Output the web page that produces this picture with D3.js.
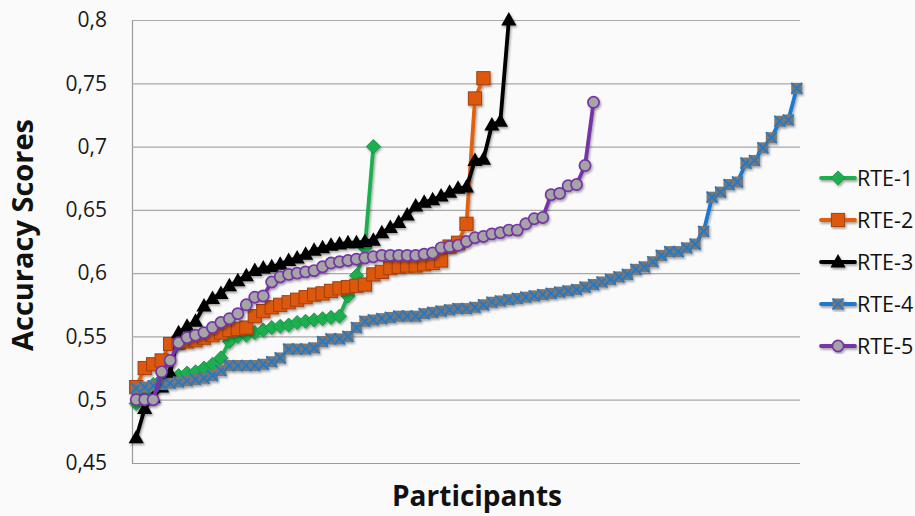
<!DOCTYPE html>
<html><head><meta charset="utf-8">
<script src="https://cdn.jsdelivr.net/npm/d3@7"></script>
<style>body{margin:0;background:#fafafa;} svg{display:block;}</style>
</head><body>
<svg id="chart" width="915" height="516"></svg>
<script>
// ---- data ----
const seriesNames = ["RTE-1", "RTE-2", "RTE-3", "RTE-4", "RTE-5"];
const participantCount = 79;
const rte1 = [0.497,0.505,0.512,0.516,0.518,0.519,0.521,0.522,0.525,0.528,0.533,0.546,0.550,0.551,0.553,0.555,0.557,0.558,0.559,0.561,0.562,0.563,0.564,0.565,0.566,0.582,0.598,0.620,0.700];
const rte2 = [0.510,0.525,0.528,0.531,0.544,0.545,0.546,0.547,0.549,0.551,0.553,0.555,0.556,0.557,0.566,0.570,0.573,0.575,0.577,0.579,0.581,0.583,0.584,0.586,0.588,0.589,0.590,0.591,0.599,0.601,0.604,0.605,0.606,0.606,0.607,0.608,0.610,0.621,0.624,0.639,0.738,0.754];
const rte3 = [0.470,0.493,0.502,0.510,0.521,0.553,0.558,0.562,0.574,0.580,0.584,0.590,0.594,0.598,0.602,0.604,0.605,0.607,0.610,0.612,0.615,0.618,0.620,0.622,0.623,0.624,0.624,0.625,0.626,0.632,0.636,0.640,0.646,0.653,0.656,0.658,0.661,0.664,0.667,0.668,0.689,0.690,0.717,0.720,0.800];
const rte4 = [0.509,0.510,0.511,0.512,0.513,0.514,0.515,0.516,0.517,0.519,0.523,0.527,0.527,0.527,0.527,0.528,0.530,0.533,0.540,0.540,0.540,0.541,0.546,0.548,0.548,0.550,0.557,0.562,0.563,0.564,0.565,0.566,0.566,0.566,0.568,0.569,0.570,0.571,0.572,0.572,0.573,0.575,0.577,0.578,0.579,0.580,0.581,0.582,0.583,0.584,0.585,0.586,0.587,0.589,0.591,0.593,0.595,0.597,0.599,0.603,0.605,0.609,0.614,0.617,0.617,0.620,0.623,0.633,0.660,0.664,0.670,0.672,0.687,0.689,0.699,0.707,0.720,0.721,0.746];
const rte5 = [0.500,0.500,0.500,0.522,0.531,0.545,0.549,0.551,0.553,0.557,0.561,0.564,0.568,0.575,0.581,0.582,0.593,0.597,0.599,0.600,0.601,0.602,0.605,0.608,0.609,0.610,0.611,0.612,0.613,0.614,0.614,0.614,0.614,0.614,0.615,0.616,0.620,0.621,0.622,0.625,0.628,0.629,0.631,0.632,0.634,0.634,0.639,0.643,0.644,0.662,0.663,0.669,0.670,0.685,0.735];
const yTicks = [0.45, 0.5, 0.55, 0.6, 0.65, 0.7, 0.75, 0.8];
const yTickLabels = ["0,45", "0,5", "0,55", "0,6", "0,65", "0,7", "0,75", "0,8"];
const yTitle = "Accuracy Scores";
const xTitle = "Participants";

// ---- styles ----
const styles = [
  {line:"#1fae50", kind:"diamond", fill:"#1fae50", stroke:"#179040"},
  {line:"#e2600c", kind:"square", fill:"#dc580a", stroke:"#a3400a"},
  {line:"#000000", kind:"triangle", fill:"#000000", stroke:"#000000"},
  {line:"#1f79cc", kind:"xbox", fill:"#777777", stroke:"#1f79cc"},
  {line:"#7434a6", kind:"circle", fill:"#a5a5a5", stroke:"#7434a6"}
];
const allSeries = [rte1, rte2, rte3, rte4, rte5];

const svg = d3.select("#chart");
const font = "'Open Sans', 'DejaVu Sans', sans-serif";
const L = 132, R = 801, T = 20, B = 463;

const x = d3.scaleBand().domain(d3.range(participantCount)).range([L, R]);
const cx = i => x(i) + x.bandwidth() / 2;
const y = d3.scaleLinear().domain([0.45, 0.8]).range([B, T]);

const defs = svg.append("defs");
const f = defs.append("filter").attr("id","sh").attr("x","-20%").attr("y","-20%").attr("width","140%").attr("height","140%");
f.append("feDropShadow").attr("dx",1.2).attr("dy",1.8).attr("stdDeviation",1.1).attr("flood-color","#000").attr("flood-opacity",0.35);

svg.append("rect").attr("width",915).attr("height",516).attr("fill","#fafafa");

// gridlines
const yAxis = d3.axisLeft(y).tickValues(yTicks).tickSize(-(R - L - 1)).tickFormat((d,i)=>yTickLabels[i]).tickPadding(25);
const ga = svg.append("g").attr("transform",`translate(${L},0)`).call(yAxis);
ga.select(".domain").attr("stroke","#9a9a9a").attr("stroke-width",1.2);
ga.selectAll(".tick line").attr("stroke","#a8a8a8").attr("stroke-width",1.2);
ga.selectAll(".tick text").attr("font-family",font).attr("font-size",21).attr("fill","#1a1a1a");
ga.selectAll(".tick").filter(d=>d===0.45).select("line").attr("stroke","#9a9a9a");

// axis titles
svg.append("text").attr("transform","translate(33,235) rotate(-90)").attr("text-anchor","middle")
  .attr("font-family",font).attr("font-weight","bold").attr("font-size",29).attr("fill","#111").text(yTitle);
svg.append("text").attr("x",477).attr("y",506).attr("text-anchor","middle")
  .attr("font-family",font).attr("font-weight","bold").attr("font-size",28).attr("fill","#111").text(xTitle);

function drawMarker(g, kind, st) {
  if (kind === "diamond") {
    g.append("rect").attr("x",-5).attr("y",-5).attr("width",10).attr("height",10)
      .attr("transform","rotate(45)").attr("fill",st.fill).attr("stroke",st.stroke).attr("stroke-width",0.8);
  } else if (kind === "square") {
    g.append("rect").attr("x",-6.6).attr("y",-6.6).attr("width",13.2).attr("height",13.2)
      .attr("fill",st.fill).attr("stroke",st.stroke).attr("stroke-width",1);
  } else if (kind === "triangle") {
    g.append("path").attr("d","M0,-8L7.6,5.5L-7.6,5.5Z").attr("fill",st.fill);
  } else if (kind === "xbox") {
    g.append("rect").attr("x",-5.5).attr("y",-5.5).attr("width",11).attr("height",11).attr("fill",st.fill);
    g.append("path").attr("d","M-5.5,-5.5L5.5,5.5M5.5,-5.5L-5.5,5.5").attr("stroke",st.stroke).attr("stroke-width",1.7);
  } else if (kind === "circle") {
    g.append("circle").attr("r",5.6).attr("fill",st.fill).attr("stroke",st.stroke).attr("stroke-width",1.7);
  }
}

const line = d3.line().x((d,i)=>cx(i)).y(d=>y(d));
allSeries.forEach((data, si) => {
  const st = styles[si];
  const g = svg.append("g").attr("filter","url(#sh)");
  g.append("path").attr("d", line(data)).attr("fill","none").attr("stroke",st.line)
    .attr("stroke-width", 3.8).attr("stroke-linejoin","round");
  g.selectAll("g.m").data(data).enter().append("g").attr("class","m")
    .attr("transform",(d,i)=>`translate(${cx(i)},${y(d)})`)
    .each(function(){ drawMarker(d3.select(this), st.kind, st); });
});

// legend
const legY = d3.scalePoint().domain(seriesNames).range([178, 346]);
seriesNames.forEach((name, si) => {
  const st = styles[si];
  const g = svg.append("g").attr("transform",`translate(0,${legY(name)})`);
  const gg = g.append("g").attr("filter","url(#sh)");
  gg.append("line").attr("x1",821).attr("x2",855).attr("stroke",st.line).attr("stroke-width",3.8).attr("stroke-linecap","round");
  const mg = gg.append("g").attr("transform","translate(838,0)");
  drawMarker(mg, st.kind, st);
  g.append("text").attr("x",857).attr("dy","0.36em").attr("font-family",font).attr("font-size",21.5).attr("fill","#111").text(name);
});
</script>
</body></html>
